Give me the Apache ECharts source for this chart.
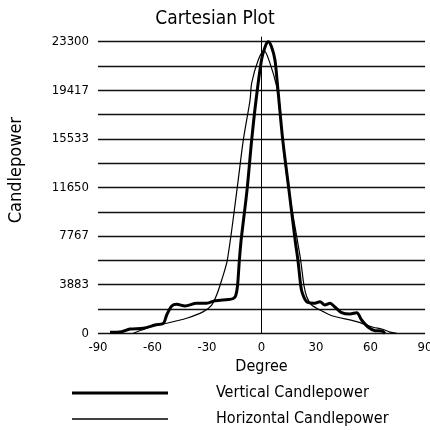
<!DOCTYPE html>
<html>
<head>
<meta charset="utf-8">
<title>Cartesian Plot</title>
<script src="https://cdn.jsdelivr.net/npm/echarts@6/dist/echarts.min.js"></script>
<style>
html, body { margin: 0; padding: 0; background: #fff; }
#main { width: 430px; height: 430px; }
</style>
</head>
<body>
<div id="main"></div>
<script>
// degrees / candlepower
var vertDeg = [-83.4,-77,-72.4,-65,-58.6,-54,-52.2,-49.4,-46.7,-42.1,-35.7,-30.2,-25.6,-18.3,-15.5,-14.2,-13.2,-12.2,-11.2,-8,-5.4,-3,0,2,3.7,5.5,7.4,8.7,11.7,14.9,18.5,20.1,21.6,22.5,24.9,29.4,32.2,34.9,37.7,40.5,44.1,48.7,52.4,55.1,58.8,62.5,66.2,68];
var vertVal = [80,130,340,400,660,800,1460,2180,2320,2180,2400,2400,2600,2700,2780,3000,3800,5800,7460,11400,15450,18640,21840,22900,23300,22900,21840,20000,15450,11700,7460,5800,3800,3200,2520,2400,2520,2260,2400,2080,1650,1540,1650,1060,480,210,180,0];
var horizDeg = [-70.6,-66,-57.7,-52.2,-41.2,-32,-27.4,-24.7,-21.9,-18.8,-13.3,-10,-6.3,-5.4,-1.8,1.4,4.7,8.4,10.2,11.5,14.7,19.7,21.6,23.4,24.9,27.6,34,37.7,41.4,52.4,61.5,66.2,70.8,74.4];
var horizVal = [0,260,660,800,1200,1730,2260,3060,4260,5860,11700,15450,18640,20000,21840,22580,21570,19700,18100,15500,11700,7460,5800,3800,2920,2260,1730,1460,1300,930,480,340,100,0];
// the vertical line at 0 degrees, running a little above the top grid line
var zeroLine = [[0, 0], [0, 23700]];
var yTickLabels = ['0','3883','7767','11650','15533','19417','23300'];
var yMax = 23300;
var xMin = -90, xMax = 90, xStep = 30;

var FONT = '"DejaVu Sans Condensed", "DejaVu Sans", sans-serif';

function pairs(xs, ys) {
	var out = [];
	for (var i = 0; i < xs.length; i++) out.push([xs[i], ys[i]]);
	return out;
}

function legendItem(name, top, h) {
	return {
		orient: 'vertical',
		left: 72,
		top: top,
		padding: 0,
		icon: 'rect',
		itemWidth: 96,
		itemHeight: h,
		selectedMode: false,
		itemStyle: { color: '#000' },
		data: [name],
		textStyle: { fontFamily: FONT, fontSize: 16, lineHeight: 18, color: '#000', padding: [0, 0, 0, 43] }
	};
}

var myChart = echarts.init(document.getElementById('main'));
var option = {
	animation: false,
	backgroundColor: '#fff',
	title: {
		text: 'Cartesian Plot',
		left: 'center',
		top: 5,
		textStyle: { fontFamily: FONT, fontSize: 19, fontWeight: 'normal', color: '#000' }
	},
	graphic: [{
		type: 'text',
		left: 7,
		top: 117,
		rotation: Math.PI / 2,
		style: { text: 'Candlepower', fontFamily: FONT, fontSize: 18, fill: '#000' }
	}],
	legend: [
		legendItem('Vertical Candlepower', 384, 3),
		legendItem('Horizontal Candlepower', 410, 1.6)
	],
	grid: { left: 98, right: 5, top: 41.7, bottom: 96.7, outerBoundsMode: 'none' },
	xAxis: {
		type: 'value',
		min: xMin,
		max: xMax,
		interval: xStep,
		name: 'Degree',
		nameLocation: 'middle',
		nameGap: 25,
		nameTextStyle: { fontFamily: FONT, fontSize: 16, color: '#000' },
		axisLine: { show: false },
		axisTick: { show: false },
		splitLine: { show: false },
		axisLabel: { fontFamily: FONT, fontSize: 13, color: '#000', margin: 8 }
	},
	yAxis: {
		type: 'value',
		min: 0,
		max: yMax,
		interval: yMax / 12,
		axisLine: { show: false },
		axisTick: { show: false },
		splitLine: { lineStyle: { color: '#111', width: 1.3 } },
		axisLabel: {
			fontFamily: FONT, fontSize: 13, color: '#000', margin: 9,
			formatter: function (v, i) { return i % 2 === 0 ? yTickLabels[i / 2] : ''; }
		}
	},
	series: [{
		name: 'zero',
		type: 'line',
		symbol: 'none',
		clip: false,
		silent: true,
		lineStyle: { color: '#000', width: 1 },
		data: zeroLine
	}, {
		name: 'Horizontal Candlepower',
		type: 'line',
		smooth: 0.3,
		symbol: 'none',
		lineStyle: { color: '#000', width: 1.2 },
		itemStyle: { color: '#000' },
		data: pairs(horizDeg, horizVal)
	}, {
		name: 'Vertical Candlepower',
		type: 'line',
		smooth: 0.3,
		symbol: 'none',
		clip: false,
		lineStyle: { color: '#000', width: 3 },
		itemStyle: { color: '#000' },
		data: pairs(vertDeg, vertVal)
	}]
};
myChart.setOption(option);
</script>
</body>
</html>
